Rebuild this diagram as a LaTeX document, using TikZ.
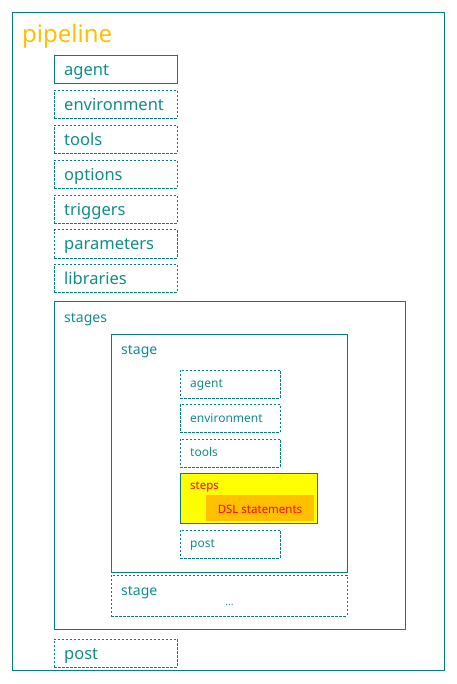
\documentclass[tikz,border=0pt]{standalone}
\usepackage{fontspec}
\setmainfont{Noto Sans}
\definecolor{tl}{RGB}{0,128,128}
\definecolor{tltext}{RGB}{16,140,140}
\definecolor{gold}{RGB}{255,192,0}
\definecolor{yel}{RGB}{255,255,0}
\begin{document}
\begin{tikzpicture}[x=1pt,y=-1pt,
  frame/.style={draw=tl, line width=0.9pt, anchor=north west, inner sep=0pt},
  dframe/.style={frame, dash pattern=on 2.5pt off 1.5pt},
  topbox/.style={minimum width=123pt, minimum height=28pt},
  inbox/.style={minimum width=100pt, minimum height=28pt},
  lbl/.style={anchor=base west, text=tltext, inner sep=0pt},
  big/.style={font=\fontsize{16.5}{18}\selectfont},
  mid/.style={font=\fontsize{14}{16}\selectfont},
  small/.style={font=\fontsize{12}{14}\selectfont}]
\useasboundingbox (0,0) rectangle (456,684);

% outer pipeline
\node[frame, minimum width=432pt, minimum height=658pt] (pipe) at (12,12) {};
\node[anchor=base west, inner sep=0pt, text=gold, font=\fontsize{24}{26}\selectfont] (pipelbl) at (22,43) {pipeline};

% top-level boxes
\node[frame, topbox] (agent) at (54,55) {};
\node[lbl, big] (agentl) at ([xshift=10pt,yshift=-20.5pt]agent.north west) {agent};
\node[dframe, topbox] (env) at (54,90) {};
\node[lbl, big] (envl) at ([xshift=10pt,yshift=-20.5pt]env.north west) {environment};
\node[dframe, topbox] (tools) at (54,125) {};
\node[lbl, big] (toolsl) at ([xshift=10pt,yshift=-20.5pt]tools.north west) {tools};
\node[dframe, topbox] (opts) at (54,160) {};
\node[lbl, big] (optsl) at ([xshift=10pt,yshift=-20.5pt]opts.north west) {options};
\node[dframe, topbox] (trig) at (54,195) {};
\node[lbl, big] (trigl) at ([xshift=10pt,yshift=-20.5pt]trig.north west) {triggers};
\node[dframe, topbox] (params) at (54,229.5) {};
\node[lbl, big] (paramsl) at ([xshift=10pt,yshift=-20.5pt]params.north west) {parameters};
\node[dframe, topbox] (libs) at (54,264) {};
\node[lbl, big] (libsl) at ([xshift=10pt,yshift=-20.5pt]libs.north west) {libraries};

% stages
\node[frame, minimum width=351pt, minimum height=328pt] (stages) at (54,301) {};
\node[lbl, mid] (stagesl) at (64,322) {stages};

% stage
\node[frame, minimum width=235.5pt, minimum height=238pt] (stage) at (111,333.5) {};
\node[lbl, mid] (stagel) at (121,354) {stage};

\node[dframe, inbox] (iagent) at (180,369.5) {};
\node[lbl, small] (iagentl) at ([xshift=10pt,yshift=-18pt]iagent.north west) {agent};
\node[dframe, inbox] (ienv) at (180,404) {};
\node[lbl, small] (ienvl) at ([xshift=10pt,yshift=-18pt]ienv.north west) {environment};
\node[dframe, inbox] (itools) at (180,438.5) {};
\node[lbl, small] (itoolsl) at ([xshift=10pt,yshift=-18pt]itools.north west) {tools};

% steps
\node[frame, fill=yel, minimum width=136.5pt, minimum height=50pt] (steps) at (180,472.5) {};
\node[anchor=base west, inner sep=0pt, text=red, font=\fontsize{11.5}{13}\selectfont] (stepsl) at (190,489.5) {steps};
\node[anchor=north west, inner sep=0pt, fill=gold, minimum width=108pt, minimum height=26pt] (dsl) at (206,495) {};
\node[anchor=base, inner sep=0pt, text=red, font=\fontsize{11.5}{13}\selectfont] (dsll) at (260,513) {DSL statements};

\node[dframe, inbox] (ipost) at (180,529.5) {};
\node[lbl, small] (ipostl) at ([xshift=10pt,yshift=-18pt]ipost.north west) {post};

% second stage
\node[dframe, minimum width=235.5pt, minimum height=41pt] (stage2) at (111,574.5) {};
\node[lbl, mid] (stage2l) at (121,595.5) {stage};
\node[anchor=base, inner sep=0pt, text=tltext, font=\fontsize{10}{12}\selectfont] (dots) at (229.5,605) {...};

% post
\node[dframe, topbox] (post) at (54,638.5) {};
\node[lbl, big] (postl) at ([xshift=10pt,yshift=-20.5pt]post.north west) {post};
\end{tikzpicture}
\end{document}
